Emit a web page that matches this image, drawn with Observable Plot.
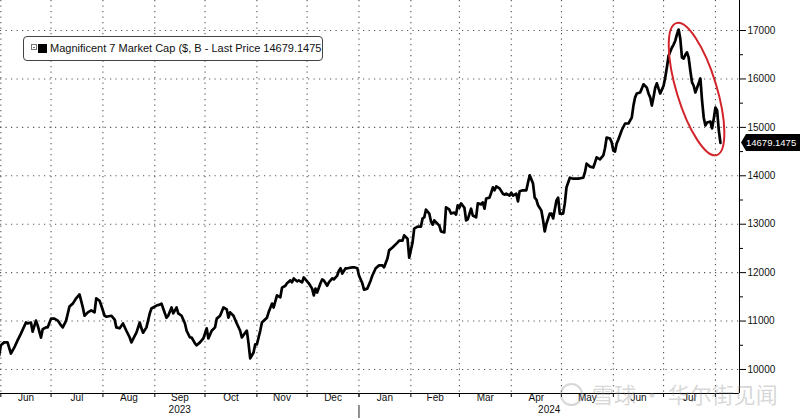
<!DOCTYPE html>
<html><head><meta charset="utf-8">
<script src="https://cdn.jsdelivr.net/npm/d3@7"></script>
<script src="https://cdn.jsdelivr.net/npm/@observablehq/plot@0.6"></script>
<style>
html,body{margin:0;padding:0;background:#fff;}
#wrap{position:relative;width:800px;height:418px;overflow:hidden;background:#fff;}
#legend{position:absolute;left:23px;top:36px;width:300px;height:25px;box-sizing:border-box;border:1px solid #444;border-radius:4px;background:#fff;font:11px "Liberation Sans",Arial,sans-serif;color:#111;white-space:nowrap;}
#legend .ico{position:absolute;left:7px;top:7px;width:4px;height:4px;border:1px solid #777;}
#legend .ico:after{content:"";position:absolute;left:1px;top:1.5px;width:2px;height:1px;background:#777;}
#legend .sq{position:absolute;left:14px;top:7px;width:9px;height:9px;background:#000;}
#legend .txt{position:absolute;left:26px;top:5px;}
#wm{position:absolute;left:560px;top:377px;font:22px "Noto Sans CJK SC",sans-serif;color:rgba(140,140,140,0.35);white-space:nowrap;}
#wm .logo{display:inline-block;width:19px;height:19px;border:2px solid rgba(140,140,140,0.35);border-radius:50%;vertical-align:-3px;margin-right:9px;}
</style>
</head><body>
<div id="wrap">
  <div id="chart"></div>
  <div id="legend"><span class="ico"></span><span class="sq"></span><span class="txt"></span></div>
  <div id="wm"><span class="logo"></span><span class="wmt"></span></div>
</div>
<script>
// ---- data ----
const dates = ["2023-05-31","2023-06-01","2023-06-03","2023-06-05","2023-06-07","2023-06-09","2023-06-11","2023-06-13","2023-06-16","2023-06-17","2023-06-19","2023-06-20","2023-06-22","2023-06-23","2023-06-25","2023-06-26","2023-06-28","2023-06-29","2023-07-01","2023-07-03","2023-07-05","2023-07-07","2023-07-08","2023-07-10","2023-07-12","2023-07-14","2023-07-16","2023-07-18","2023-07-20","2023-07-21","2023-07-23","2023-07-25","2023-07-27","2023-07-28","2023-07-30","2023-07-31","2023-08-02","2023-08-03","2023-08-06","2023-08-08","2023-08-09","2023-08-11","2023-08-13","2023-08-15","2023-08-17","2023-08-18","2023-08-21","2023-08-23","2023-08-24","2023-08-25","2023-08-27","2023-08-29","2023-08-30","2023-09-02","2023-09-04","2023-09-05","2023-09-07","2023-09-08","2023-09-09","2023-09-11","2023-09-12","2023-09-14","2023-09-15","2023-09-17","2023-09-19","2023-09-20","2023-09-22","2023-09-23","2023-09-25","2023-09-26","2023-09-28","2023-09-30","2023-10-02","2023-10-03","2023-10-05","2023-10-07","2023-10-08","2023-10-10","2023-10-12","2023-10-14","2023-10-15","2023-10-16","2023-10-18","2023-10-20","2023-10-22","2023-10-23","2023-10-25","2023-10-26","2023-10-27","2023-10-28","2023-10-30","2023-10-31","2023-11-01","2023-11-03","2023-11-04","2023-11-07","2023-11-08","2023-11-10","2023-11-11","2023-11-13","2023-11-15","2023-11-16","2023-11-18","2023-11-19","2023-11-21","2023-11-22","2023-11-23","2023-11-25","2023-11-26","2023-11-28","2023-11-29","2023-12-01","2023-12-02","2023-12-04","2023-12-05","2023-12-06","2023-12-07","2023-12-09","2023-12-10","2023-12-11","2023-12-13","2023-12-14","2023-12-16","2023-12-17","2023-12-19","2023-12-20","2023-12-21","2023-12-22","2023-12-24","2023-12-25","2023-12-28","2023-12-29","2023-12-31","2024-01-01","2024-01-03","2024-01-04","2024-01-06","2024-01-08","2024-01-09","2024-01-11","2024-01-13","2024-01-15","2024-01-16","2024-01-18","2024-01-19","2024-01-21","2024-01-24","2024-01-25","2024-01-27","2024-01-28","2024-01-30","2024-01-31","2024-02-02","2024-02-03","2024-02-05","2024-02-07","2024-02-08","2024-02-09","2024-02-10","2024-02-12","2024-02-13","2024-02-14","2024-02-15","2024-02-16","2024-02-18","2024-02-19","2024-02-21","2024-02-22","2024-02-24","2024-02-25","2024-02-27","2024-02-28","2024-02-29","2024-03-01","2024-03-02","2024-03-04","2024-03-05","2024-03-06","2024-03-08","2024-03-09","2024-03-11","2024-03-12","2024-03-14","2024-03-15","2024-03-16","2024-03-17","2024-03-19","2024-03-20","2024-03-21","2024-03-22","2024-03-23","2024-03-25","2024-03-27","2024-03-28","2024-03-29","2024-03-31","2024-04-01","2024-04-02","2024-04-04","2024-04-05","2024-04-06","2024-04-08","2024-04-09","2024-04-10","2024-04-11","2024-04-12","2024-04-14","2024-04-15","2024-04-16","2024-04-17","2024-04-19","2024-04-20","2024-04-21","2024-04-22","2024-04-24","2024-04-25","2024-04-26","2024-04-28","2024-04-29","2024-04-30","2024-05-02","2024-05-03","2024-05-04","2024-05-06","2024-05-08","2024-05-10","2024-05-11","2024-05-14","2024-05-15","2024-05-16","2024-05-18","2024-05-20","2024-05-21","2024-05-22","2024-05-24","2024-05-26","2024-05-27","2024-05-28","2024-05-30","2024-05-31","2024-06-01","2024-06-02","2024-06-03","2024-06-04","2024-06-06","2024-06-08","2024-06-10","2024-06-12","2024-06-13","2024-06-14","2024-06-15","2024-06-17","2024-06-18","2024-06-19","2024-06-21","2024-06-22","2024-06-23","2024-06-24","2024-06-25","2024-06-26","2024-06-27","2024-06-28","2024-06-29","2024-07-01","2024-07-02","2024-07-03","2024-07-04","2024-07-06","2024-07-07","2024-07-08","2024-07-09","2024-07-10","2024-07-11","2024-07-12","2024-07-13","2024-07-14","2024-07-15","2024-07-16","2024-07-17","2024-07-18","2024-07-19","2024-07-20","2024-07-22","2024-07-23","2024-07-24","2024-07-25","2024-07-26","2024-07-27","2024-07-29","2024-07-30","2024-07-31","2024-08-01","2024-08-02","2024-08-03","2024-08-04"];
const values = [10290,10500,10560,10560,10330,10450,10600,10740,10970,10950,10970,10780,11010,10910,10660,10830,10870,10870,11050,11050,11010,10910,10870,11010,11300,11360,11470,11550,11280,11110,11180,11220,11180,11470,11420,11320,11110,11090,11110,11030,10870,10850,10950,10800,10660,10560,10760,10970,10850,10760,10870,11160,11260,11320,11340,11360,11160,11070,11110,11280,11160,11280,11160,11110,10950,10800,10660,10660,10540,10500,10560,10640,10850,10640,10800,10870,11050,11110,11280,11240,11070,11180,11110,10950,10800,10660,10760,10800,10540,10230,10350,10520,10520,10800,10970,11070,11180,11360,11280,11530,11490,11690,11730,11780,11840,11800,11880,11820,11840,11800,11900,11820,11780,11670,11530,11670,11590,11780,11860,11840,11730,11800,11880,11860,11940,12040,12090,11980,12090,12090,12110,12110,12090,11940,11780,11650,11670,11840,11940,12090,12150,12150,12110,12290,12460,12520,12620,12660,12660,12770,12700,12310,12620,12910,12950,12950,13120,13140,13300,13220,13060,12990,13080,13040,12970,12850,12830,13350,13300,13220,13240,13200,13390,13340,13430,13340,13080,13100,13320,13180,13140,13430,13410,13450,13320,13530,13550,13650,13760,13700,13780,13740,13630,13610,13630,13590,13650,13590,13630,13470,13680,13700,13700,13700,13860,14010,13840,13550,13510,13390,13280,13080,12850,13010,13220,13220,13120,13490,13550,13220,13220,13430,13760,13960,13940,13940,13940,13960,14070,14250,14190,14170,14270,14380,14340,14420,14570,14790,14770,14690,14520,14500,14670,14750,14940,15080,15080,15200,15450,15620,15700,15720,15800,15890,15820,15700,15620,15450,15620,15820,15910,15800,15700,15860,16030,16240,16480,16650,16710,16790,16920,17020,16830,16440,16420,16500,16550,16440,16170,15930,15860,15720,15910,16010,15550,15200,15040,15100,15120,14980,15180,15410,15350,14940,14679.1475];

const yTicks = [10000,11000,12000,13000,14000,15000,16000,17000];
const yMinorTicks = [10500,11500,12500,13500,14500,15500,16500];
const monthStarts = ["2023-06-01","2023-07-01","2023-08-01","2023-09-01","2023-10-01","2023-11-01","2023-12-01","2024-01-01","2024-02-01","2024-03-01","2024-04-01","2024-05-01","2024-06-01","2024-07-01","2024-08-01"];
const monthLabels = ["Jun","Jul","Aug","Sep","Oct","Nov","Dec","Jan","Feb","Mar","Apr","May","Jun","Jul"];
const yearStarts = ["2023-01-01","2024-01-01","2025-01-01"];
const yearLabels = ["2023","2024"];
const legendTitle = "Magnificent 7 Market Cap ($, B - Last Price 14679.1475";
const lastPriceLabel = "14679.1475";
const highlight = {date: "2024-07-21", value: 15780}; // red ellipse centre
const watermark = "雪球 · 华尔街见闻";

// ---- build ----
const data = dates.map((d, i) => ({date: new Date(d), value: values[i]}));
const xDomain = [new Date("2023-05-31T19:00:00Z"), new Date("2024-08-15T09:00:00Z")];
const yDomain = [9504, 17620];
const ms = monthStarts.map(d => new Date(d));
const monthMid = monthLabels.map((m, i) => ({label: m, date: new Date((+ms[i] + +ms[i + 1]) / 2)}));
const yearMid = yearLabels.map((y, i) => {
  const a = Math.max(+new Date(yearStarts[i]), +xDomain[0]);
  const b = Math.min(+new Date(yearStarts[i + 1]), +xDomain[1]);
  return {label: y, date: new Date((a + b) / 2)};
});
const font = "'Liberation Sans', Arial, sans-serif";

const chart = Plot.plot({
  width: 800, height: 418,
  marginLeft: 0, marginRight: 61, marginTop: 0, marginBottom: 25,
  style: {fontFamily: font, fontSize: "10px", color: "#111", background: "transparent", overflow: "visible"},
  x: {type: "utc", domain: xDomain, axis: null},
  y: {domain: yDomain, axis: null},
  marks: [
    Plot.gridY(yTicks, {stroke: "#555", strokeOpacity: 1, strokeWidth: 1.1, strokeDasharray: "1.2,4.3"}),
    Plot.gridX(ms, {stroke: "#555", strokeOpacity: 1, strokeWidth: 1.1, strokeDasharray: "1.2,4.3"}),
    Plot.ruleY([yDomain[0]], {stroke: "#000", strokeWidth: 1}),
    Plot.ruleX([xDomain[1]], {stroke: "#000", strokeWidth: 1}),
    Plot.axisX(ms, {anchor: "bottom", tickSize: 4, tickFormat: () => "", stroke: "#000", label: null}),
    Plot.axisX([new Date("2024-01-01")], {anchor: "bottom", tickSize: 25, tickFormat: () => "", stroke: "#222", strokeDasharray: "4,8,13", label: null}),
    Plot.text(monthMid, {x: "date", text: "label", frameAnchor: "bottom", dy: 7, fill: "#111", fontSize: 10}),
    Plot.text(yearMid, {x: "date", text: "label", frameAnchor: "bottom", dy: 19, fill: "#111", fontSize: 10}),
    Plot.axisY(yTicks, {anchor: "right", tickSize: 6, tickPadding: 2, tickFormat: d => String(d), stroke: "#000", fill: "#111", fontSize: 10, label: null}),
    Plot.axisY(yMinorTicks, {anchor: "right", tickSize: 3, tickFormat: () => "", stroke: "#000", label: null}),
    Plot.line(data, {x: "date", y: "value", stroke: "#000", strokeWidth: 2.7, strokeLinejoin: "round"})
  ]
});
document.getElementById("chart").appendChild(chart);

// scale helpers through Plot's own scales
const sx = chart.scale("x"), sy = chart.scale("y");
const fx = sx.apply ? v => sx.apply(v) : d3.scaleUtc(sx.domain, sx.range);
const fy = sy.apply ? v => sy.apply(v) : d3.scaleLinear(sy.domain, sy.range);
const svg = d3.select(chart.tagName.toLowerCase() === "svg" ? chart : chart.querySelector("svg"));

// red ellipse annotation
const cx = fx(new Date(highlight.date)), cy = fy(highlight.value);
svg.append("ellipse")
  .attr("cx", 0).attr("cy", 0).attr("rx", 20).attr("ry", 69)
  .attr("transform", `translate(${cx},${cy}) rotate(-17)`)
  .attr("fill", "none").attr("stroke", "#d2232a").attr("stroke-width", 2);

// last price tag
const last = data[data.length - 1];
const ly = fy(last.value), ax = sx.range[1] + 2;
svg.append("path")
  .attr("d", `M${ax},${ly} L${ax + 5},${ly - 8.5} L800,${ly - 8.5} L800,${ly + 8.5} L${ax + 5},${ly + 8.5} Z`)
  .attr("fill", "#000");
svg.append("text").attr("x", ax + 5).attr("y", ly).attr("dy", "0.35em")
  .attr("text-anchor", "start")
  .attr("fill", "#fff").attr("font-family", font).attr("font-size", 9.5).text(lastPriceLabel);

document.querySelector("#legend .txt").textContent = legendTitle;
document.querySelector("#wm .wmt").textContent = watermark;
</script>
</body></html>
